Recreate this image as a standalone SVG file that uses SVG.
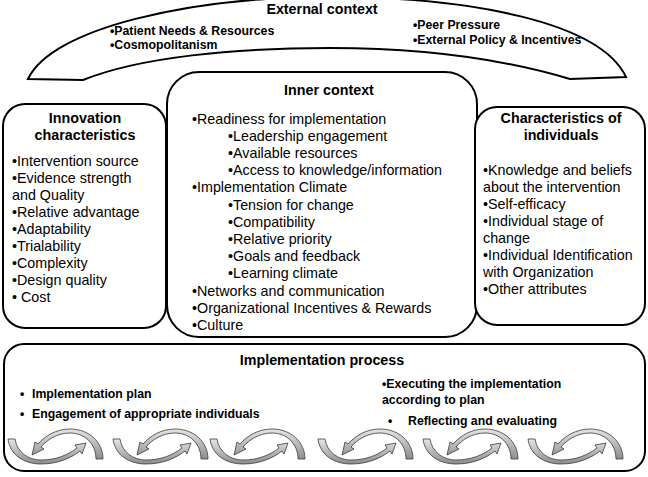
<svg xmlns="http://www.w3.org/2000/svg" width="648" height="477" viewBox="0 0 648 477">
<style>
.box{fill:#fff;stroke:#000;stroke-width:2}
.t{font-family:"Liberation Sans",Arial,sans-serif;font-size:14.3px;fill:#000}
.h{font-family:"Liberation Sans",Arial,sans-serif;font-size:14.3px;font-weight:bold;fill:#000;text-anchor:middle}
.s{font-family:"Liberation Sans",Arial,sans-serif;font-size:12.3px;font-weight:bold;fill:#000}
.rib{fill:url(#gr);stroke:#3a3a3a;stroke-width:0.8;stroke-linejoin:round}
</style>
<defs>
<linearGradient id="gr" x1="0" y1="0" x2="0" y2="1">
<stop offset="0" stop-color="#e6e6e6"/>
<stop offset="1" stop-color="#8c8c8c"/>
</linearGradient>
<g id="spiral">
<path class="rib" d="M0,9 C2,25 16,34 33,34 C50,34 63,28 72,21 L74,24 L78,13 L67,15 L69,18 C60,25 48,30 33,30 C20,30 9,22 7,9 Z"/>
<path class="rib" d="M95,29 C95,12 81,-1 62,-1 C48,-1 37,6 30,14 L27,12 L24,25 L36,19 L33,17 C39,10 49,3 62,3 C77,3 88,14 88,29 Z"/>
</g>
</defs>
<rect width="648" height="477" fill="#fff"/>
<g id="external">
<path class="box" d="M28,79 C52,28 190,-3 330,-3 C470,-3 600,22 626,77 L570,79 C500,58 420,48 330,48 C235,48 140,57 83,80 Z"/>
<text class="h" x="322" y="14">External context</text>
<text class="s" x="110" y="35">•Patient Needs &amp; Resources</text>
<text class="s" x="110" y="49">•Cosmopolitanism</text>
<text class="s" x="413" y="29">•Peer Pressure</text>
<text class="s" x="413" y="44">•External Policy &amp; Incentives</text>
</g>
<g id="innovation">
<rect class="box" x="3" y="104" width="163" height="224" rx="22"/>
<text class="h" x="85" y="123">Innovation</text>
<text class="h" x="85" y="140">characteristics</text>
<text class="t" x="12" y="166">•Intervention source</text>
<text class="t" x="12" y="183">•Evidence strength</text>
<text class="t" x="12" y="200">and Quality</text>
<text class="t" x="12" y="217">•Relative advantage</text>
<text class="t" x="12" y="234">•Adaptability</text>
<text class="t" x="12" y="251">•Trialability</text>
<text class="t" x="12" y="268">•Complexity</text>
<text class="t" x="12" y="285">•Design quality</text>
<text class="t" x="12" y="302">• Cost</text>
</g>
<g id="inner">
<rect class="box" x="167" y="72" width="310" height="265" rx="32"/>
<text class="h" x="329" y="95">Inner context</text>
<text class="t" x="192" y="124">•Readiness for implementation</text>
<text class="t" x="228" y="141">•Leadership engagement</text>
<text class="t" x="228" y="158">•Available resources</text>
<text class="t" x="228" y="175">•Access to knowledge/information</text>
<text class="t" x="192" y="192">•Implementation Climate</text>
<text class="t" x="228" y="210">•Tension for change</text>
<text class="t" x="228" y="227">•Compatibility</text>
<text class="t" x="228" y="244">•Relative priority</text>
<text class="t" x="228" y="261">•Goals and feedback</text>
<text class="t" x="228" y="278">•Learning climate</text>
<text class="t" x="192" y="296">•Networks and communication</text>
<text class="t" x="192" y="313">•Organizational Incentives &amp; Rewards</text>
<text class="t" x="192" y="330">•Culture</text>
</g>
<g id="individuals">
<rect class="box" x="475" y="107" width="170" height="218" rx="22"/>
<text class="h" x="561" y="123">Characteristics of</text>
<text class="h" x="561" y="140">individuals</text>
<text class="t" x="483" y="175">•Knowledge and beliefs</text>
<text class="t" x="483" y="192">about the intervention</text>
<text class="t" x="483" y="209">•Self-efficacy</text>
<text class="t" x="483" y="226">•Individual stage of</text>
<text class="t" x="483" y="243">change</text>
<text class="t" x="483" y="260">•Individual Identification</text>
<text class="t" x="483" y="277">with Organization</text>
<text class="t" x="483" y="294">•Other attributes</text>
</g>
<g id="process">
<rect class="box" x="4" y="344" width="641" height="127" rx="20"/>
<text class="h" x="322" y="365">Implementation process</text>
<text class="s" x="20" y="398">•</text>
<text class="s" x="32" y="398">Implementation plan</text>
<text class="s" x="20" y="418">•</text>
<text class="s" x="32" y="418">Engagement of appropriate individuals</text>
<text class="s" x="382" y="388">•Executing the implementation</text>
<text class="s" x="382" y="404">according to plan</text>
<text class="s" x="388" y="425">•</text>
<text class="s" x="408" y="425">Reflecting and evaluating</text>
<use href="#spiral" x="8" y="430"/>
<use href="#spiral" x="113" y="430"/>
<use href="#spiral" x="210" y="430"/>
<use href="#spiral" x="318" y="430"/>
<use href="#spiral" x="423" y="430"/>
<use href="#spiral" x="528" y="430"/>
</g>
<g id="connectors"/>
</svg>
